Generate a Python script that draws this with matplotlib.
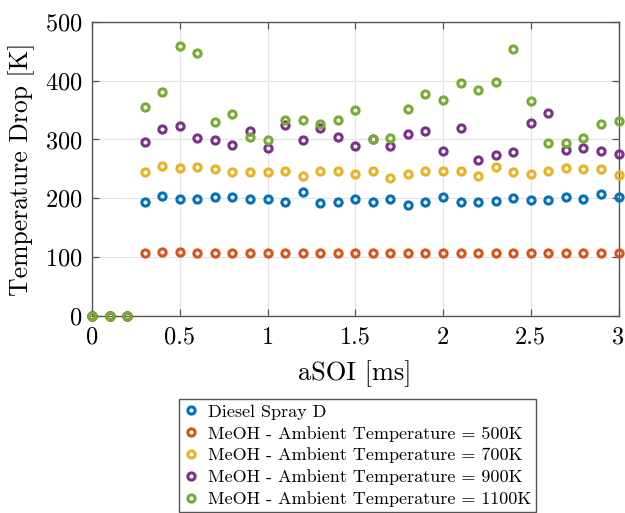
import numpy as np
import matplotlib
matplotlib.use("Agg")
from matplotlib import pyplot as plt

plt.rcParams["font.family"] = "serif"
plt.rcParams["font.serif"] = ["cmr10"]
plt.rcParams["mathtext.fontset"] = "cm"
plt.rcParams["axes.formatter.use_mathtext"] = True

# aSOI [ms] sample times, 0 to 3 ms in 0.1 ms steps
asoi = [round(0.1 * i, 1) for i in range(31)]

diesel = [0, 0, 0,
          193, 203.7, 199.2, 198.6, 201.5, 202.6, 198, 199.2, 193, 210.6,
          192.4, 193, 198, 193.5, 199.2, 188.4, 194, 202.6, 193.5, 193.5,
          195.8, 201, 197, 197, 201.5, 199.2, 207, 202.6]
meoh_500 = [0, 0, 0,
            106, 108.4, 108.4, 107.3, 106.7, 106.7, 106.7, 106.7, 106.7,
            106.7, 106.7, 106.7, 106.7, 106.7, 106.7, 106.7, 106.7, 106.7,
            106.7, 106.7, 106.7, 106.7, 106.7, 106.7, 106.7, 106.7, 106.7,
            106.7]
meoh_700 = [0, 0, 0,
            244.6, 254.8, 251.4, 252.6, 249, 244, 244, 244, 246.3, 237.2,
            245.7, 245.7, 241.8, 246.9, 233.8, 240.6, 245.7, 246.3, 246.9,
            237.8, 252.6, 244, 241.8, 246.9, 251.4, 249.7, 249.7, 239]
meoh_900 = [0, 0, 0,
            296, 318, 323, 302, 298.5, 290.6, 314, 285.5, 325, 298.5,
            319.5, 304, 288.5, 300, 289.4, 308.7, 313.8, 279.8, 319, 265.6,
            274, 279.2, 328, 345, 281.5, 285, 281, 274.7]
meoh_1100 = [0, 0, 0,
             356, 380, 459, 447, 329, 344, 304, 298.5, 332.6, 334,
             327, 332.6, 350, 301, 303, 352.4, 376.8, 367.8, 396.7, 383.7,
             398.4, 454.6, 366, 294, 294, 303, 326.3, 330.9]

series = [diesel, meoh_500, meoh_700, meoh_900, meoh_1100]
labels = ["Diesel Spray D",
          "MeOH - Ambient Temperature = 500K",
          "MeOH - Ambient Temperature = 700K",
          "MeOH - Ambient Temperature = 900K",
          "MeOH - Ambient Temperature = 1100K"]
colors = ["#0072BD", "#D95319", "#EDB120", "#7E2F8E", "#77AC30"]

fig = plt.figure(figsize=(6.25, 5.13), dpi=100)
ax = fig.add_axes([0.1472, 0.3846, 0.8424, 0.5725])

for vals, lab, col in zip(series, labels, colors):
    ax.plot(asoi, vals, linestyle="none", marker="o", markersize=5.2,
            markeredgewidth=2.2, markerfacecolor="none", markeredgecolor=col,
            label=lab, clip_on=False, zorder=3)

ax.set_xlim(0, 3)
ax.set_ylim(0, 500)
ax.set_xticks([0, 0.5, 1, 1.5, 2, 2.5, 3])
ax.set_xticklabels(["0", "0.5", "1", "1.5", "2", "2.5", "3"])
ax.set_yticks([0, 100, 200, 300, 400, 500])
ax.grid(True, color="#e3e3e3", linewidth=0.9)
ax.set_axisbelow(True)

for sp in ax.spines.values():
    sp.set_color("#555555")
    sp.set_linewidth(1.0)
ax.tick_params(axis="both", which="major", direction="in", length=5,
               width=0.9, color="#555555", labelsize=17.5, top=True, right=True)
ax.tick_params(axis="x", pad=8)
ax.tick_params(axis="y", pad=7)

ax.set_xlabel("aSOI [ms]", fontsize=19, labelpad=8)
ax.set_ylabel("Temperature Drop [K]", fontsize=18.5, labelpad=7)

leg = fig.legend(loc="upper center", bbox_to_anchor=(0.572, 0.222),
                 fontsize=13, numpoints=1, handlelength=0.8,
                 handletextpad=0.55, labelspacing=0.33, borderpad=0.28,
                 borderaxespad=0, fancybox=False, framealpha=1)
leg.get_frame().set_edgecolor("#555555")
leg.get_frame().set_linewidth(1.0)

fig.savefig("out.png", dpi=100)
